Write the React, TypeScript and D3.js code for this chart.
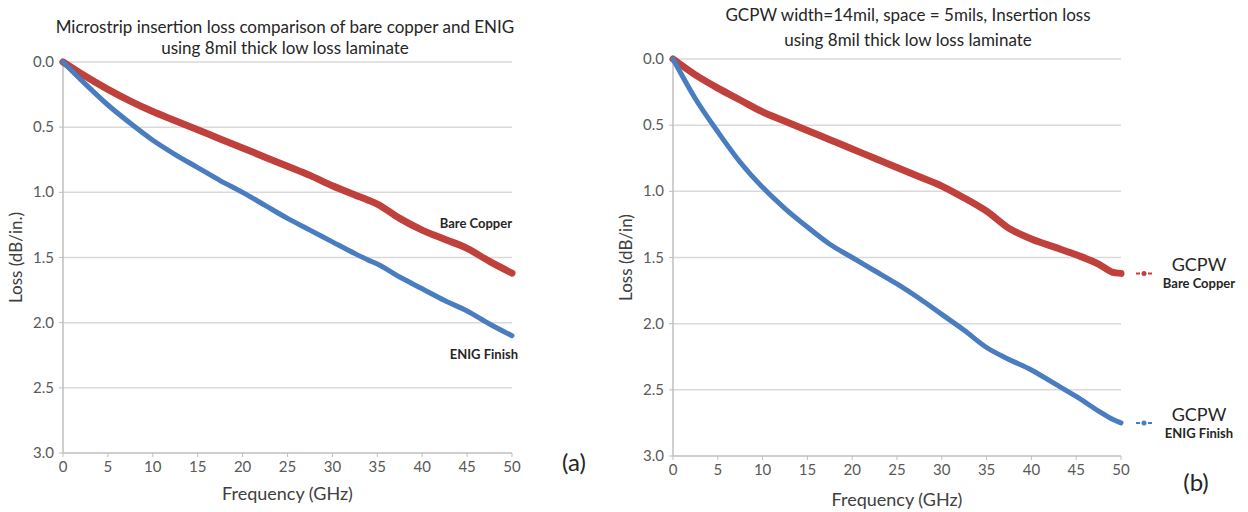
import React, { useEffect, useRef } from 'react';
import * as d3 from 'd3';

// Panel (a): microstrip
const freqA = [0, 2.5, 5, 7.5, 10, 12.5, 15, 17.5, 20, 22.5, 25, 27.5, 30, 32.5, 34, 35, 37.5, 40, 42.5, 45, 47.5, 50];
const bareA = [0, 0.11, 0.21, 0.3, 0.38, 0.45, 0.52, 0.59, 0.66, 0.73, 0.8, 0.87, 0.95, 1.02, 1.06, 1.09, 1.2, 1.29, 1.36, 1.43, 1.53, 1.62];
const enigA = [0, 0.17, 0.33, 0.47, 0.6, 0.71, 0.81, 0.91, 1.0, 1.1, 1.2, 1.29, 1.38, 1.47, 1.52, 1.55, 1.65, 1.74, 1.83, 1.91, 2.01, 2.1];

// Panel (b): GCPW
const freqB = [0, 2.5, 5, 7.5, 10, 12.5, 15, 17.5, 20, 22.5, 25, 27.5, 30, 32.5, 35, 37.5, 40, 42.5, 45, 47.5, 49, 50];
const bareB = [0, 0.12, 0.22, 0.31, 0.4, 0.47, 0.54, 0.61, 0.68, 0.75, 0.82, 0.89, 0.96, 1.05, 1.15, 1.28, 1.36, 1.42, 1.48, 1.55, 1.61, 1.62];
const enigB = [0, 0.3, 0.55, 0.78, 0.97, 1.13, 1.27, 1.4, 1.5, 1.6, 1.7, 1.81, 1.93, 2.05, 2.18, 2.27, 2.35, 2.45, 2.55, 2.66, 2.72, 2.75];

const xTicks = [0, 5, 10, 15, 20, 25, 30, 35, 40, 45, 50];
const yTicks = [0, 0.5, 1.0, 1.5, 2.0, 2.5, 3.0];

const RED = '#c0403c';
const BLUE = '#4a7cc0';
const FONT = 'Lato, "Open Sans", sans-serif';

type Panel = {
  x0: number; x1: number; y0: number; y1: number;
  title: string[]; titleX: number; titleY: number[];
  yLabel: string; yLabelX: number;
  xLabelY: number; tickY: number;
  freq: number[]; bare: number[]; enig: number[];
};

const App = () => {
  const svgRef = useRef<SVGSVGElement>(null);

  useEffect(() => {
    const svg = d3.select(svgRef.current);
    svg.selectAll('*').remove();
    svg.style('background', '#ffffff');

    const panels: Panel[] = [
      {
        x0: 63, x1: 512, y0: 62, y1: 453,
        title: ['Microstrip insertion loss comparison of bare copper and ENIG', 'using 8mil thick low loss  laminate'],
        titleX: 285, titleY: [33, 54],
        yLabel: 'Loss  (dB/in.)', yLabelX: 22,
        xLabelY: 500, tickY: 472,
        freq: freqA, bare: bareA, enig: enigA,
      },
      {
        x0: 673, x1: 1121, y0: 59, y1: 456,
        title: ['GCPW width=14mil, space = 5mils, Insertion loss', 'using 8mil thick low loss  laminate'],
        titleX: 908, titleY: [21, 46],
        yLabel: 'Loss (dB/in)', yLabelX: 632,
        xLabelY: 506, tickY: 475,
        freq: freqB, bare: bareB, enig: enigB,
      },
    ];

    panels.forEach((p) => {
      const x = d3.scaleLinear().domain([0, 50]).range([p.x0, p.x1]);
      const y = d3.scaleLinear().domain([0, 3]).range([p.y0, p.y1]);
      const g = svg.append('g');

      // gridlines
      g.selectAll('.grid')
        .data(yTicks.slice(0, -1))
        .enter()
        .append('line')
        .attr('x1', p.x0).attr('x2', p.x1)
        .attr('y1', d => y(d)).attr('y2', d => y(d))
        .attr('stroke', '#d9d9d9').attr('stroke-width', 1.5);

      // axes
      g.append('line').attr('x1', p.x0).attr('x2', p.x0).attr('y1', p.y0).attr('y2', p.y1)
        .attr('stroke', '#bfbfbf').attr('stroke-width', 1.5);
      g.append('line').attr('x1', p.x0).attr('x2', p.x1).attr('y1', p.y1).attr('y2', p.y1)
        .attr('stroke', '#bfbfbf').attr('stroke-width', 1.5);
      g.selectAll('.xt')
        .data(xTicks)
        .enter()
        .append('line')
        .attr('x1', d => x(d)).attr('x2', d => x(d))
        .attr('y1', p.y1).attr('y2', p.y1 + 4)
        .attr('stroke', '#bfbfbf');
      g.selectAll('.yt')
        .data(yTicks)
        .enter()
        .append('line')
        .attr('x1', p.x0 - 4).attr('x2', p.x0)
        .attr('y1', d => y(d)).attr('y2', d => y(d))
        .attr('stroke', '#bfbfbf');

      // tick labels
      g.selectAll('.xl')
        .data(xTicks)
        .enter()
        .append('text')
        .attr('x', d => x(d)).attr('y', p.tickY)
        .attr('text-anchor', 'middle')
        .attr('font-family', FONT).attr('font-size', 15).attr('fill', '#595959')
        .text(d => d);
      g.selectAll('.yl')
        .data(yTicks)
        .enter()
        .append('text')
        .attr('x', p.x0 - 9).attr('y', d => y(d) + 5)
        .attr('text-anchor', 'end')
        .attr('font-family', FONT).attr('font-size', 15).attr('fill', '#595959')
        .text(d => d.toFixed(1));

      // titles
      p.title.forEach((t, i) => {
        g.append('text')
          .attr('x', p.titleX).attr('y', p.titleY[i])
          .attr('text-anchor', 'middle')
          .attr('font-family', FONT).attr('font-size', 17).attr('fill', '#262626')
          .text(t);
      });
      g.append('text')
        .attr('transform', `translate(${p.yLabelX},${(p.y0 + p.y1) / 2}) rotate(-90)`)
        .attr('text-anchor', 'middle')
        .attr('font-family', FONT).attr('font-size', 17).attr('fill', '#404040')
        .text(p.yLabel);
      g.append('text')
        .attr('x', (p.x0 + p.x1) / 2).attr('y', p.xLabelY)
        .attr('text-anchor', 'middle')
        .attr('font-family', FONT).attr('font-size', 18).attr('fill', '#404040')
        .text('Frequency (GHz)');

      // lines
      const line = d3.line<number>()
        .x((d, i) => x(p.freq[i]))
        .y(d => y(d))
        .curve(d3.curveMonotoneX);
      g.append('path').datum(p.bare).attr('d', line)
        .attr('fill', 'none').attr('stroke', RED).attr('stroke-width', 7)
        .attr('stroke-linecap', 'round').attr('stroke-linejoin', 'round');
      g.append('path').datum(p.enig).attr('d', line)
        .attr('fill', 'none').attr('stroke', BLUE).attr('stroke-width', 5)
        .attr('stroke-linecap', 'round').attr('stroke-linejoin', 'round');
    });

    // annotations, panel (a)
    const xa = d3.scaleLinear().domain([0, 50]).range([63, 512]);
    const ya = d3.scaleLinear().domain([0, 3]).range([62, 453]);
    svg.append('text').attr('x', xa(50)).attr('y', ya(bareA[bareA.length - 1]) - 45)
      .attr('text-anchor', 'end').attr('font-family', FONT).attr('font-size', 13)
      .attr('font-weight', 'bold').attr('fill', '#262626').text('Bare Copper');
    svg.append('text').attr('x', xa(50) + 6).attr('y', ya(enigA[enigA.length - 1]) + 23)
      .attr('text-anchor', 'end').attr('font-family', FONT).attr('font-size', 13)
      .attr('font-weight', 'bold').attr('fill', '#262626').text('ENIG Finish');
    svg.append('text').attr('x', 574).attr('y', 471).attr('text-anchor', 'middle')
      .attr('font-family', FONT).attr('font-size', 24).attr('fill', '#262626').text('(a)');

    // legend, panel (b)
    const yb = d3.scaleLinear().domain([0, 3]).range([59, 456]);
    const legend = [
      { v: bareB[bareB.length - 1], c: RED, sub: 'Bare Copper' },
      { v: enigB[enigB.length - 1], c: BLUE, sub: 'ENIG Finish' },
    ];
    legend.forEach((l) => {
      const ly = yb(l.v);
      svg.append('line').attr('x1', 1136).attr('x2', 1152).attr('y1', ly).attr('y2', ly)
        .attr('stroke', l.c).attr('stroke-width', 2).attr('stroke-dasharray', '4,2');
      svg.append('circle').attr('cx', 1144).attr('cy', ly).attr('r', 2.5).attr('fill', l.c);
      svg.append('text').attr('x', 1199).attr('y', ly - 2).attr('text-anchor', 'middle')
        .attr('font-family', FONT).attr('font-size', 18).attr('fill', '#262626').text('GCPW');
      svg.append('text').attr('x', 1199).attr('y', ly + 15).attr('text-anchor', 'middle')
        .attr('font-family', FONT).attr('font-size', 13).attr('font-weight', 'bold')
        .attr('fill', '#262626').text(l.sub);
    });
    svg.append('text').attr('x', 1196).attr('y', 491).attr('text-anchor', 'middle')
      .attr('font-family', FONT).attr('font-size', 24).attr('fill', '#262626').text('(b)');
  }, []);

  return (
    <div style={{ position: 'absolute', left: 0, top: 0 }}>
      <svg ref={svgRef} width={1248} height={512} style={{ display: 'block' }}></svg>
    </div>
  );
};

export default App;
